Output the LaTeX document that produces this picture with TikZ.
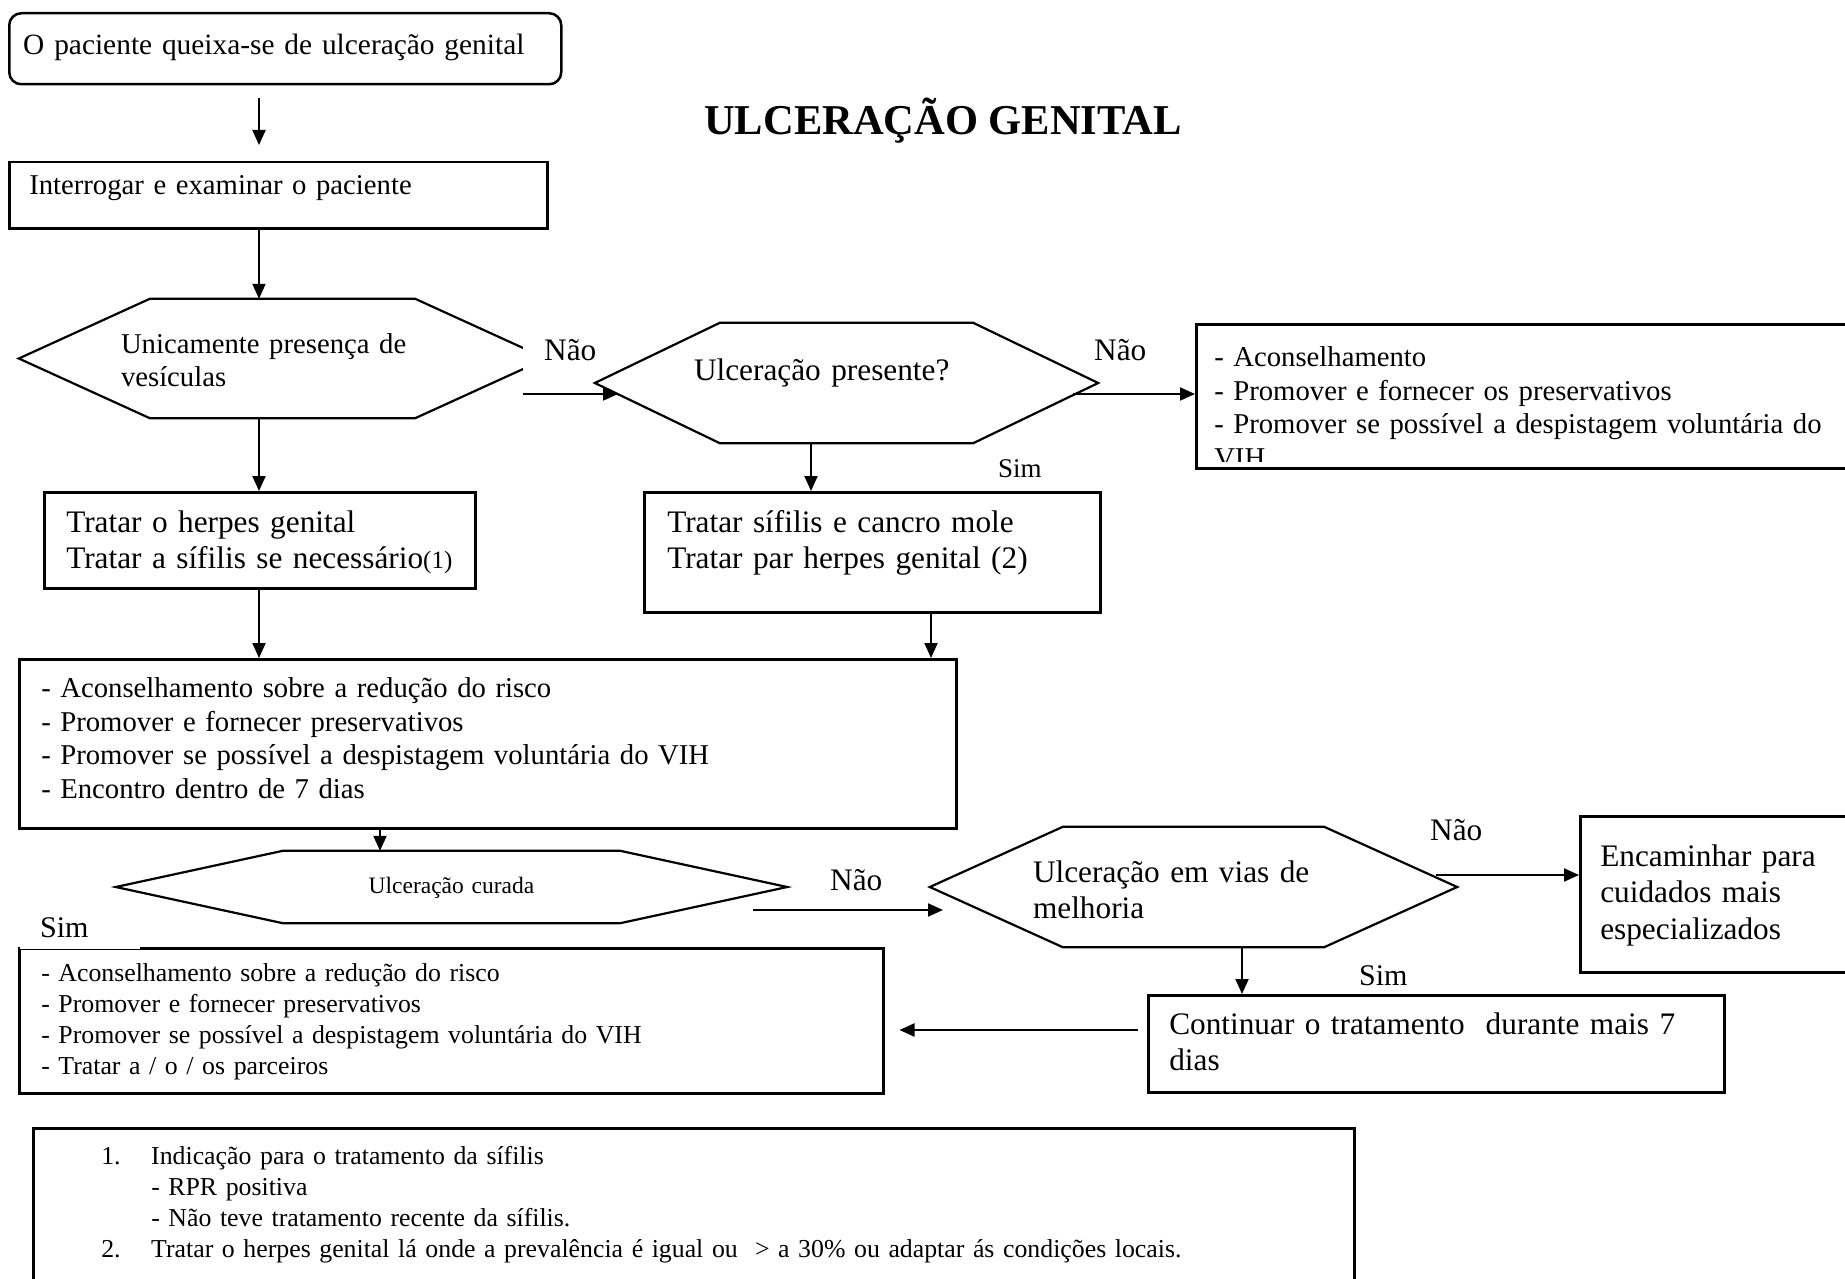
\documentclass[tikz,border=0pt]{standalone}
\usepackage{fontspec}
\setmainfont{Liberation Serif}
\usetikzlibrary{arrows.meta}

\newcommand{\letranormal}{\fontsize{28.7}{33.8}\selectfont}
\newcommand{\letragrande}{\fontsize{31.3}{36.5}\selectfont}
\newcommand{\letrapequena}{\fontsize{25.8}{31}\selectfont}
\newcommand{\letratitulo}{\fontsize{42.5}{48}\selectfont\bfseries}

\begin{document}
\begin{tikzpicture}[x=1pt, y=-1pt, font=\letranormal]

    \tikzset{caixa/.style = {draw, line width=2.5pt, anchor=north west, align=left, inner ysep=0pt}}
    \tikzset{hexa/.style = {inner sep=0pt, align=left}}
    \tikzset{linha/.style = {line width=2.2pt}}
    \tikzset{seta/.style = {-{Triangle[length=15pt,width=13pt]}, line width=2pt}}
    \tikzset{rotulo/.style = {anchor=base west, inner sep=0pt, font=\letragrande}}

    \useasboundingbox (0,0) rectangle (1845,1279);

    \node[font=\letratitulo, anchor=base, inner sep=0pt] (titulo) at (943,135) {ULCERAÇÃO GENITAL};

    % caixas
    \node[caixa, font=\fontsize{29.4}{33.8}\selectfont, rounded corners=12pt, inner xsep=14pt, text width=524pt, text height=41pt, text depth=30pt] (inicio) at (8,12) {O paciente queixa-se de ulceração genital};
    \node[caixa, inner xsep=20pt, text width=498pt, text height=32pt, text depth=34pt] (interrogar) at (8,161) {Interrogar e examinar o paciente};
    \node[caixa, font=\letragrande, inner xsep=22pt, text width=387pt, text height=40pt, text depth=56pt] (tratA) at (43,491) {Tratar o herpes genital\\ \mbox{Tratar a sífilis se necessário{\fontsize{25}{30}\selectfont(1)}}};
    \node[caixa, font=\letragrande, inner xsep=23pt, text width=410pt, text height=40pt, text depth=80pt] (tratB) at (643,491) {Tratar sífilis e cancro mole\\ Tratar par herpes genital (2)};
    \node[caixa, inner xsep=22pt, text width=893pt, text height=38pt, text depth=131pt] (aconsC) at (18,658) {- Aconselhamento sobre a redução do risco\\ - Promover e fornecer preservativos\\ - Promover se possível a despistagem voluntária do VIH\\ - Encontro dentro de 7 dias};
    \node[caixa, font=\letrapequena, inner xsep=22pt, text width=820pt, text height=33pt, text depth=112pt] (aconsD) at (18,947) {- Aconselhamento sobre a redução do risco\\ - Promover e fornecer preservativos\\ - Promover se possível a despistagem voluntária do VIH\\ - Tratar a / o / os parceiros};
    \node[caixa, font=\letragrande, inner xsep=20pt, text width=261pt, text height=50pt, text depth=106pt] (encaminhar) at (1579,815) {Encaminhar para\\ cuidados mais\\ especializados};
    \node[caixa, font=\letragrande, inner xsep=21pt, text width=534pt, text height=39pt, text depth=58pt] (continuar) at (1147,994) {Continuar o tratamento\ \ durante mais 7\\ dias};
    \node[caixa, font=\letrapequena, inner xsep=68pt, text width=1185pt, text height=36pt, text depth=157pt] (rodape) at (32,1127) {\makebox[50pt][l]{1.}Indicação para o tratamento da sífilis\\ \hspace*{50pt}- RPR positiva\\ \hspace*{50pt}- Não teve tratamento recente da sífilis.\\ \makebox[50pt][l]{2.}Tratar o herpes genital lá onde a prevalência é igual ou\ \ > a 30\% ou adaptar ás condições locais.};

    \node[caixa, minimum width=685pt, minimum height=144pt] (conselho) at (1195,323) {};
    \begin{scope}
        \clip (1195,323) rectangle (1880,461);
        \node[caixa, draw=none, inner xsep=18pt, text width=649pt, text height=42pt, text depth=102pt] (conselhotexto) at (1195,323) {- Aconselhamento\\ - Promover e fornecer os preservativos\\ - Promover se possível a despistagem voluntária do\\ VIH};
    \end{scope}

    % hexagonos
    \node[hexa, minimum width=527pt, text width=323pt, text height=54pt, text depth=65pt] (vesic) at (282.5,358.5) {Unicamente presença de\\ vesículas};
    \node[hexa, font=\letragrande, minimum width=503pt, text width=305pt, text height=57pt, text depth=63pt] (presente) at (846.5,383) {Ulceração presente?};
    \node[hexa, font=\fontsize{23.5}{28}\selectfont, align=center, minimum width=671pt, text width=300pt, text height=42pt, text depth=30pt] (curada) at (451.5,887) {Ulceração curada};
    \node[hexa, font=\letragrande, minimum width=527pt, text width=321pt, text height=55pt, text depth=65pt] (melhoria) at (1193.5,887) {Ulceração em vias de\\ melhoria};

    \draw[linha] (vesic.west) -- ([xshift=131pt]vesic.north west) -- ([xshift=-131pt]vesic.north east) -- (vesic.east) -- ([xshift=-131pt]vesic.south east) -- ([xshift=131pt]vesic.south west) -- cycle;
    \draw[linha] (presente.west) -- ([xshift=125pt]presente.north west) -- ([xshift=-125pt]presente.north east) -- (presente.east) -- ([xshift=-125pt]presente.south east) -- ([xshift=125pt]presente.south west) -- cycle;
    \draw[linha] (curada.west) -- ([xshift=167pt]curada.north west) -- ([xshift=-167pt]curada.north east) -- (curada.east) -- ([xshift=-167pt]curada.south east) -- ([xshift=167pt]curada.south west) -- cycle;
    \draw[linha] (melhoria.west) -- ([xshift=133pt]melhoria.north west) -- ([xshift=-133pt]melhoria.north east) -- (melhoria.east) -- ([xshift=-133pt]melhoria.south east) -- ([xshift=133pt]melhoria.south west) -- cycle;

    % rotulos
    \node[rotulo, fill=white, inner xsep=21pt, inner ysep=10pt] (naoA) at (523,360) {Não};
    \node[rotulo] (naoB) at (1094,360) {Não};
    \node[rotulo, font=\fontsize{27}{31}\selectfont] (simA) at (998,477) {Sim};
    \node[rotulo] (naoC) at (830,890) {Não};
    \node[rotulo] (naoD) at (1430,840) {Não};
    \node[rotulo, font=\fontsize{30}{34}\selectfont] (simB) at (1359,985) {Sim};
    \node[rotulo, font=\fontsize{30}{34}\selectfont, fill=white, align=left, text width=80pt, inner xsep=20pt, inner ysep=12pt] (simC) at (20,937) {Sim};

    % setas
    \coordinate (colA) at (259,0);
    \coordinate (colB) at (811,0);
    \coordinate (colC) at (931,0);
    \coordinate (colD) at (380,0);
    \coordinate (colE) at (1242,0);
    \coordinate (fimA) at (618,394);
    \coordinate (saidaB) at (1073,394);
    \coordinate (saidaC) at (753,910);
    \coordinate (fimC) at (943,910);
    \coordinate (saidaD) at (1436,875);
    \coordinate (linhaF) at (0,1030);

    \draw[seta, shorten <=13pt, shorten >=16pt] (colA |- inicio.south) -- (colA |- interrogar.north);
    \draw[seta] (colA |- interrogar.south) -- (colA |- vesic.north);
    \draw[seta] (colA |- vesic.south) -- (colA |- tratA.north);
    \draw[seta] (naoA.west |- fimA) -- (fimA);
    \draw[seta] (colB |- presente.south) -- (colB |- tratB.north);
    \draw[seta] (saidaB) -- (conselho.west |- saidaB);
    \draw[seta] (colA |- tratA.south) -- (colA |- aconsC.north);
    \draw[seta] (colC |- tratB.south) -- (colC |- aconsC.north);
    \draw[seta] (colD |- aconsC.south) -- (colD |- curada.north);
    \draw[seta] (saidaC) -- (fimC);
    \draw[seta] (saidaD) -- (encaminhar.west |- saidaD);
    \draw[seta] (colE |- melhoria.south) -- (colE |- continuar.north);
    \draw[seta, shorten <=9pt, shorten >=15pt] (continuar.west |- linhaF) -- (aconsD.east |- linhaF);

\end{tikzpicture}
\end{document}
